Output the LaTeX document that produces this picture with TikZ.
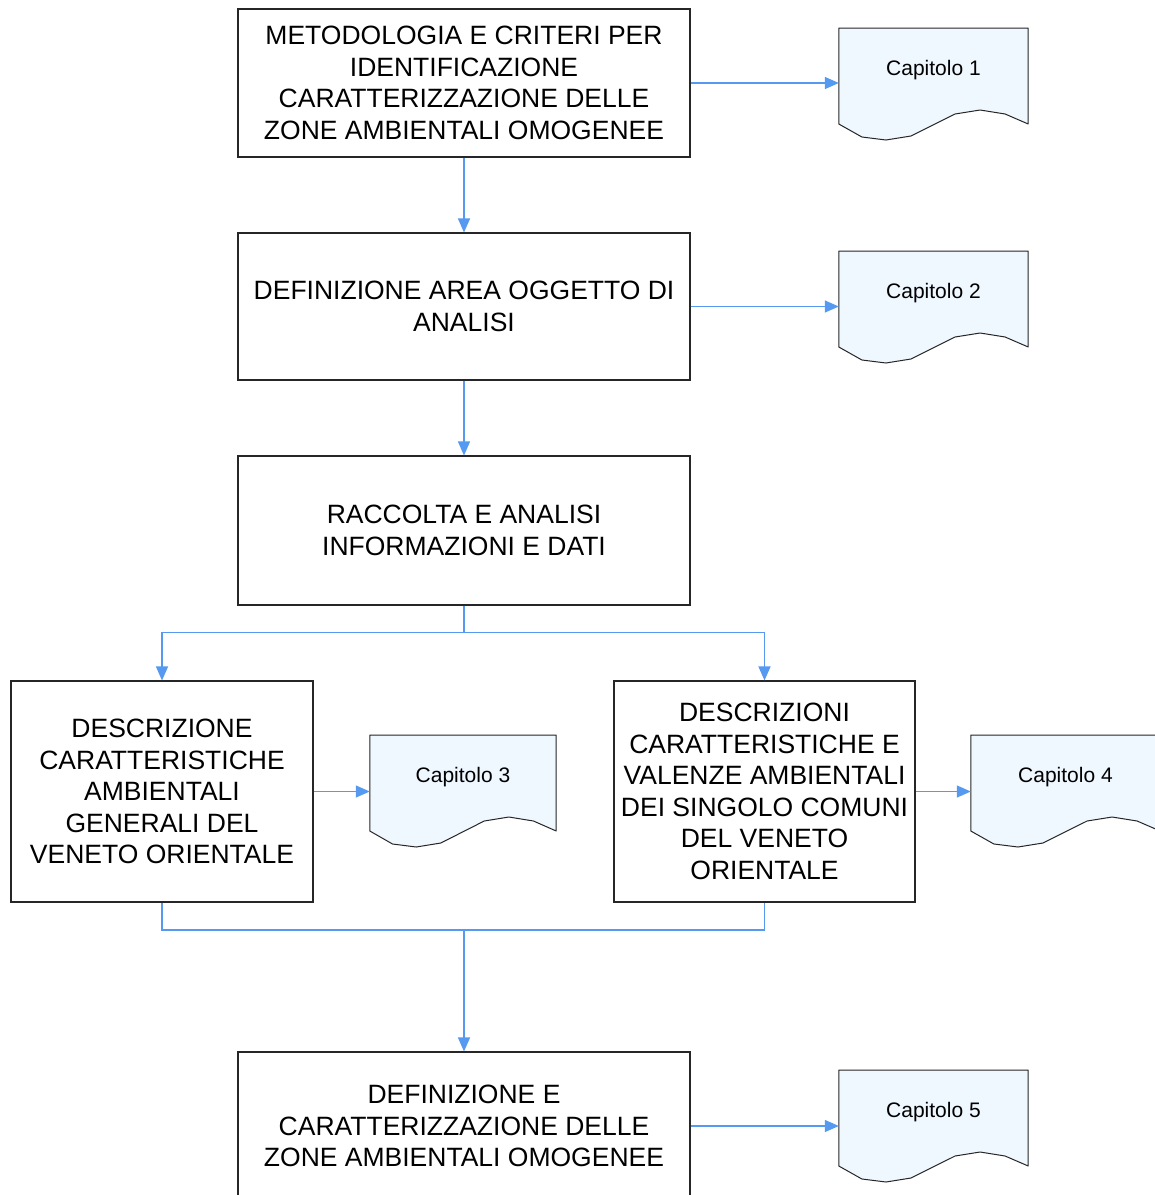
\documentclass[tikz,border=0pt]{standalone}
\usepackage{fontspec}
\setmainfont{Liberation Sans}
\usetikzlibrary{arrows.meta,backgrounds,calc}
\definecolor{arrowblue}{RGB}{85,153,240}
\definecolor{docfill}{RGB}{239,247,255}
\newcommand\docshape[1]{%
\begin{scope}[on background layer]
\filldraw[docstyle] ([shift={(0,-42)}]#1.west) -- ([shift={(0,-42)}]#1.east) -- ([shift={(0,54)}]#1.east)
 -- ($(#1.west)!0.878!(#1.east)+(0,44)$) -- ($(#1.west)!0.746!(#1.east)+(0,40)$)
 -- ($(#1.west)!0.614!(#1.east)+(0,44)$) -- ($(#1.west)!0.381!(#1.east)+(0,66)$)
 -- ($(#1.west)!0.249!(#1.east)+(0,70)$) -- ($(#1.west)!0.122!(#1.east)+(0,67)$)
 -- ([shift={(0,54)}]#1.west) -- cycle;
\end{scope}}
\begin{document}
\begin{tikzpicture}[x=1pt,y=-1pt,
  stepbox/.style={draw=black!85, line width=1.1pt, minimum width=452pt, minimum height=148pt,
    align=center, inner sep=0pt, font=\fontsize{26.5}{31.5}\selectfont},
  captext/.style={minimum width=189pt, inner sep=0pt, font=\fontsize{21}{25}\selectfont},
  docstyle/.style={draw=black!85, line width=1pt, fill=docfill, line join=round},
  conn/.style={draw=arrowblue, line width=1.3pt},
  arr/.style={conn, -{Triangle[length=14pt,width=12pt]}}]
\useasboundingbox (0,0) rectangle (1155,1195);
\begin{scope}[on background layer]
\fill[white] (0,0) rectangle (1155,1195);
\end{scope}

\node[stepbox] (b1) at (464,83) {METODOLOGIA E CRITERI PER\\IDENTIFICAZIONE\\CARATTERIZZAZIONE DELLE\\ZONE AMBIENTALI OMOGENEE};
\node[stepbox, minimum height=147pt] (b2) at (464,306.5) {DEFINIZIONE AREA OGGETTO DI\\ANALISI};
\node[stepbox, minimum height=149pt] (b3) at (464,530.5) {RACCOLTA E ANALISI\\INFORMAZIONI E DATI};
\node[stepbox, minimum width=302pt, minimum height=221pt] (b4) at (162,791.5) {DESCRIZIONE\\CARATTERISTICHE\\AMBIENTALI\\GENERALI DEL\\VENETO ORIENTALE};
\node[stepbox, minimum width=301pt, minimum height=221pt] (b5) at (764.5,791.5) {DESCRIZIONI\\CARATTERISTICHE E\\VALENZE AMBIENTALI\\DEI SINGOLO COMUNI\\DEL VENETO\\ORIENTALE};
\node[stepbox] (b6) at (464,1126) {DEFINIZIONE E\\CARATTERIZZAZIONE DELLE\\ZONE AMBIENTALI OMOGENEE};

\node[captext] (c1) at (933.5,70) {Capitolo 1};
\node[captext] (c2) at (933.5,293) {Capitolo 2};
\node[captext, minimum width=186pt] (c3) at (463,777) {Capitolo 3};
\node[captext] (c4) at (1065.5,777) {Capitolo 4};
\node[captext] (c5) at (933.5,1112) {Capitolo 5};
\docshape{c1}
\docshape{c2}
\docshape{c3}
\docshape{c4}
\docshape{c5}

\draw[arr] (b1.south) -- (b2.north);
\draw[arr] (b2.south) -- (b3.north);
\draw[arr] (b3.south) -- ++(0,27) -| (b4.north);
\draw[arr] (b3.south) -- ++(0,27) -| (b5.north);
\coordinate (j) at (464,930);
\draw[conn] (b4.south) |- (j) -| (b5.south);
\draw[arr] (j) -- (b6.north);

\draw[arr] (b1.east) -- (b1.east -| c1.west);
\draw[arr] (b2.east) -- (b2.east -| c2.west);
\draw[arr] (b4.east) -- (b4.east -| c3.west);
\draw[arr] (b5.east) -- (b5.east -| c4.west);
\draw[arr] (b6.east) -- (b6.east -| c5.west);
\end{tikzpicture}
\end{document}
